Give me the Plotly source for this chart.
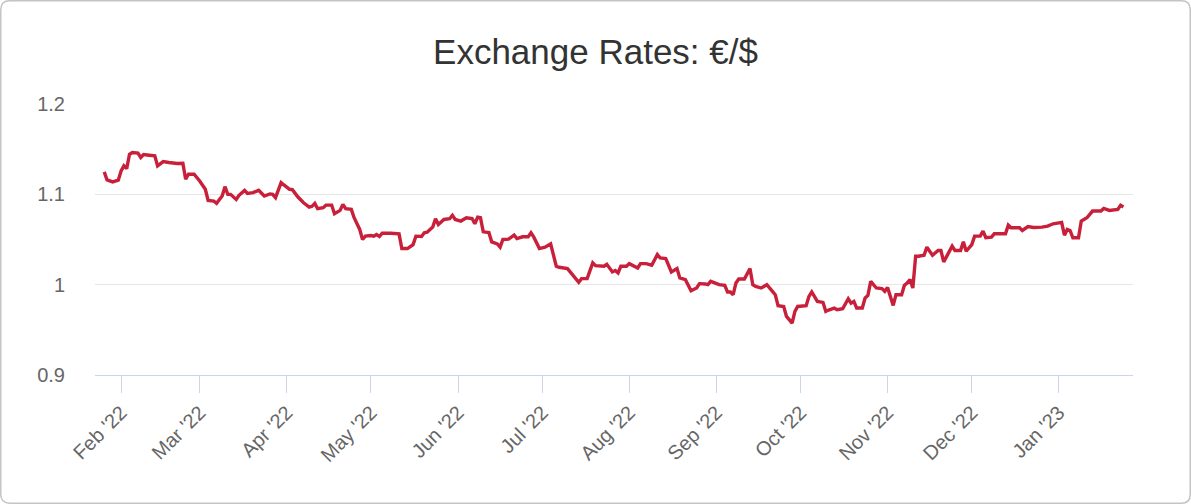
import plotly.graph_objects as go

# ---- data ----
dates = [
    "2022-01-26", "2022-01-27", "2022-01-29", "2022-01-31", "2022-02-01", "2022-02-02", "2022-02-03",
    "2022-02-04", "2022-02-05", "2022-02-07", "2022-02-08", "2022-02-09", "2022-02-11", "2022-02-13",
    "2022-02-14", "2022-02-16", "2022-02-18", "2022-02-20", "2022-02-21", "2022-02-23", "2022-02-24",
    "2022-02-25", "2022-02-27", "2022-03-01", "2022-03-03", "2022-03-04", "2022-03-06", "2022-03-07",
    "2022-03-09", "2022-03-10", "2022-03-11", "2022-03-12", "2022-03-14", "2022-03-15", "2022-03-17",
    "2022-03-18", "2022-03-20", "2022-03-22", "2022-03-24", "2022-03-26", "2022-03-27", "2022-03-28",
    "2022-03-30", "2022-03-31", "2022-04-02", "2022-04-03", "2022-04-05", "2022-04-07", "2022-04-09",
    "2022-04-10", "2022-04-11", "2022-04-12", "2022-04-14", "2022-04-15", "2022-04-17", "2022-04-18",
    "2022-04-20", "2022-04-21", "2022-04-22", "2022-04-24", "2022-04-25", "2022-04-27", "2022-04-28",
    "2022-04-29", "2022-05-01", "2022-05-02", "2022-05-03", "2022-05-04", "2022-05-05", "2022-05-08",
    "2022-05-11", "2022-05-12", "2022-05-14", "2022-05-16", "2022-05-17", "2022-05-19", "2022-05-20",
    "2022-05-21", "2022-05-23", "2022-05-24", "2022-05-25", "2022-05-27", "2022-05-29", "2022-05-30",
    "2022-05-31", "2022-06-02", "2022-06-04", "2022-06-06", "2022-06-07", "2022-06-08", "2022-06-09",
    "2022-06-10", "2022-06-12", "2022-06-13", "2022-06-15", "2022-06-16", "2022-06-17", "2022-06-19",
    "2022-06-21", "2022-06-22", "2022-06-24", "2022-06-26", "2022-06-27", "2022-06-28", "2022-06-30",
    "2022-07-02", "2022-07-04", "2022-07-06", "2022-07-07", "2022-07-10", "2022-07-12", "2022-07-13",
    "2022-07-14", "2022-07-15", "2022-07-17", "2022-07-19", "2022-07-20", "2022-07-23", "2022-07-24",
    "2022-07-26", "2022-07-27", "2022-07-28", "2022-07-29", "2022-07-31", "2022-08-01", "2022-08-04",
    "2022-08-05", "2022-08-07", "2022-08-09", "2022-08-11", "2022-08-12", "2022-08-14", "2022-08-16",
    "2022-08-18", "2022-08-19", "2022-08-21", "2022-08-23", "2022-08-25", "2022-08-26", "2022-08-28",
    "2022-08-29", "2022-08-30", "2022-09-01", "2022-09-02", "2022-09-04", "2022-09-05", "2022-09-06",
    "2022-09-07", "2022-09-08", "2022-09-09", "2022-09-11", "2022-09-13", "2022-09-14", "2022-09-15",
    "2022-09-17", "2022-09-19", "2022-09-21", "2022-09-22", "2022-09-23", "2022-09-24", "2022-09-25",
    "2022-09-26", "2022-09-28", "2022-09-29", "2022-09-30", "2022-10-03", "2022-10-04", "2022-10-05",
    "2022-10-07", "2022-10-09", "2022-10-10", "2022-10-11", "2022-10-13", "2022-10-14", "2022-10-16",
    "2022-10-18", "2022-10-19", "2022-10-20", "2022-10-21", "2022-10-23", "2022-10-24", "2022-10-25",
    "2022-10-26", "2022-10-28", "2022-10-30", "2022-10-31", "2022-11-01", "2022-11-03", "2022-11-04",
    "2022-11-06", "2022-11-07", "2022-11-08", "2022-11-09", "2022-11-10", "2022-11-11", "2022-11-12",
    "2022-11-14", "2022-11-15", "2022-11-17", "2022-11-19", "2022-11-20", "2022-11-21", "2022-11-23",
    "2022-11-24", "2022-11-25", "2022-11-27", "2022-11-28", "2022-11-29", "2022-12-01", "2022-12-02",
    "2022-12-04", "2022-12-05", "2022-12-06", "2022-12-08", "2022-12-09", "2022-12-12", "2022-12-13",
    "2022-12-14", "2022-12-15", "2022-12-18", "2022-12-19", "2022-12-21", "2022-12-23", "2022-12-26",
    "2022-12-28", "2022-12-30", "2023-01-01", "2023-01-02", "2023-01-03", "2023-01-04", "2023-01-05",
    "2023-01-06", "2023-01-08", "2023-01-09", "2023-01-11", "2023-01-13", "2023-01-16", "2023-01-17",
    "2023-01-19", "2023-01-21", "2023-01-22", "2023-01-23", "2023-01-24",
]
rates = [
    1.1248, 1.1159, 1.1137, 1.1156, 1.1259, 1.1315, 1.1285,
    1.1444, 1.1463, 1.1456, 1.1408, 1.1441, 1.1433, 1.1426,
    1.1315, 1.1363, 1.1352, 1.1344, 1.1341, 1.1344, 1.1167,
    1.1222, 1.1222, 1.1148, 1.1056, 1.0933, 1.0926, 1.0900,
    1.0981, 1.1085, 1.1000, 1.1000, 1.0944, 1.0989, 1.1044,
    1.1011, 1.1019, 1.1044, 1.0981, 1.1005, 1.1000, 1.0963,
    1.1130, 1.1104, 1.1056, 1.1052, 1.0970, 1.0907, 1.0859,
    1.0867, 1.0900, 1.0841, 1.0852, 1.0881, 1.0881, 1.0785,
    1.0822, 1.0889, 1.0841, 1.0833, 1.0741, 1.0611, 1.0500,
    1.0537, 1.0544, 1.0537, 1.0556, 1.0533, 1.0570, 1.0570,
    1.0563, 1.0400, 1.0400, 1.0444, 1.0537, 1.0533, 1.0574,
    1.0581, 1.0637, 1.0730, 1.0667, 1.0722, 1.0730, 1.0767,
    1.0722, 1.0704, 1.0741, 1.0733, 1.0674, 1.0748, 1.0741,
    1.0585, 1.0578, 1.0474, 1.0452, 1.0415, 1.0500, 1.0504,
    1.0548, 1.0511, 1.0530, 1.0530, 1.0574, 1.0526, 1.0400,
    1.0415, 1.0452, 1.0204, 1.0193, 1.0178, 1.0104, 1.0074,
    1.0026, 1.0067, 1.0067, 1.0241, 1.0211, 1.0204, 1.0225,
    1.0141, 1.0156, 1.0130, 1.0204, 1.0204, 1.0233, 1.0185,
    1.0233, 1.0233, 1.0215, 1.0333, 1.0296, 1.0289, 1.0141,
    1.0178, 1.0074, 1.0056, 0.9933, 0.9963, 1.0011, 1.0008,
    1.0000, 1.0037, 1.0008, 1.0000, 0.9993, 0.9919, 0.9919,
    0.9889, 1.0019, 1.0063, 1.0063, 1.0178, 1.0000, 0.9981,
    0.9963, 1.0000, 0.9926, 0.9889, 0.9767, 0.9759, 0.9759,
    0.9648, 0.9574, 0.9704, 0.9759, 0.9767, 0.9870, 0.9919,
    0.9815, 0.9804, 0.9704, 0.9719, 0.9741, 0.9722, 0.9733,
    0.9844, 0.9796, 0.9815, 0.9741, 0.9741, 0.9852, 0.9881,
    1.0037, 0.9963, 0.9956, 0.9926, 0.9970, 0.9770, 0.9889,
    0.9889, 0.9993, 1.0019, 1.0056, 0.9963, 1.0315, 1.0315,
    1.0326, 1.0415, 1.0326, 1.0378, 1.0378, 1.0252, 1.0370,
    1.0426, 1.0378, 1.0378, 1.0474, 1.0370, 1.0444, 1.0537,
    1.0537, 1.0593, 1.0519, 1.0526, 1.0563, 1.0563, 1.0563,
    1.0659, 1.0630, 1.0630, 1.0600, 1.0644, 1.0633, 1.0637,
    1.0648, 1.0674, 1.0689, 1.0689, 1.0548, 1.0611, 1.0600,
    1.0519, 1.0519, 1.0704, 1.0741, 1.0815, 1.0815, 1.0844,
    1.0822, 1.0833, 1.0833, 1.0878, 1.0859,
]
y_ticks = [0.9, 1.0, 1.1, 1.2]
y_tick_text = ["0.9", "1", "1.1", "1.2"]
title_text = "Exchange Rates: €/$"

# ---- layout geometry ----
W, H = 1191, 504
ML, MR, MT, MB = 95, 58, 104, 129
PW, PH = W - ML - MR, H - MT - MB

def px_to_paper(px, py):
    return (px - ML) / PW, (H - MB - py) / PH

def rounded_rect_path(x0, y0, x1, y1, r):
    def P(px, py):
        X, Y = px_to_paper(px, py)
        return f"{X:.6f},{Y:.6f}"
    return (
        f"M {P(x0 + r, y0)} L {P(x1 - r, y0)} Q {P(x1, y0)} {P(x1, y0 + r)} "
        f"L {P(x1, y1 - r)} Q {P(x1, y1)} {P(x1 - r, y1)} "
        f"L {P(x0 + r, y1)} Q {P(x0, y1)} {P(x0, y1 - r)} "
        f"L {P(x0, y0 + r)} Q {P(x0, y0)} {P(x0 + r, y0)} Z"
    )

FONT = "Liberation Sans, Arial, Helvetica, sans-serif"

fig = go.Figure()
fig.add_trace(go.Scatter(
    x=dates, y=rates, mode="lines",
    line=dict(color="#c8203a", width=3.4),
    hoverinfo="x+y", showlegend=False,
))

fig.update_layout(
    width=W, height=H,
    margin=dict(l=ML, r=MR, t=MT, b=MB, pad=0),
    paper_bgcolor="white", plot_bgcolor="white",
    font=dict(family=FONT, color="#666666", size=20),
    title=dict(text=title_text, x=0.5, xref="container", xanchor="center",
               y=1 - 52 / H, yref="container", yanchor="middle",
               font=dict(family=FONT, size=35, color="#333333")),
    xaxis=dict(
        type="date",
        range=["2022-01-22 17:00", "2023-01-27 10:00"],
        tick0="2022-02-01", dtick="M1", tickformat="%b '%y",
        tickangle=-45, ticks="outside", ticklen=17, tickcolor="#ccd6eb", tickwidth=1,
        showline=True, linecolor="#ccd6eb", linewidth=1,
        showgrid=False, zeroline=False,
        tickfont=dict(family=FONT, size=20, color="#666666"),
    ),
    yaxis=dict(
        range=[0.9, 1.2], tickvals=y_ticks, ticktext=y_tick_text,
        showgrid=True, gridcolor="#e6e6e6", gridwidth=1,
        zeroline=False, showline=False, ticks="",
        ticklabelstandoff=29,
        tickfont=dict(family=FONT, size=20, color="#666666"),
    ),
    shapes=[dict(
        type="path", xref="paper", yref="paper",
        path=rounded_rect_path(0.75, 0.75, W - 0.75, H - 0.75, 9),
        line=dict(color="#c4c4c4", width=1.5),
        fillcolor="rgba(0,0,0,0)", layer="above",
    )],
)

fig.write_html("out.html", config={"displayModeBar": False},
               post_script="document.body.style.margin='0';")
